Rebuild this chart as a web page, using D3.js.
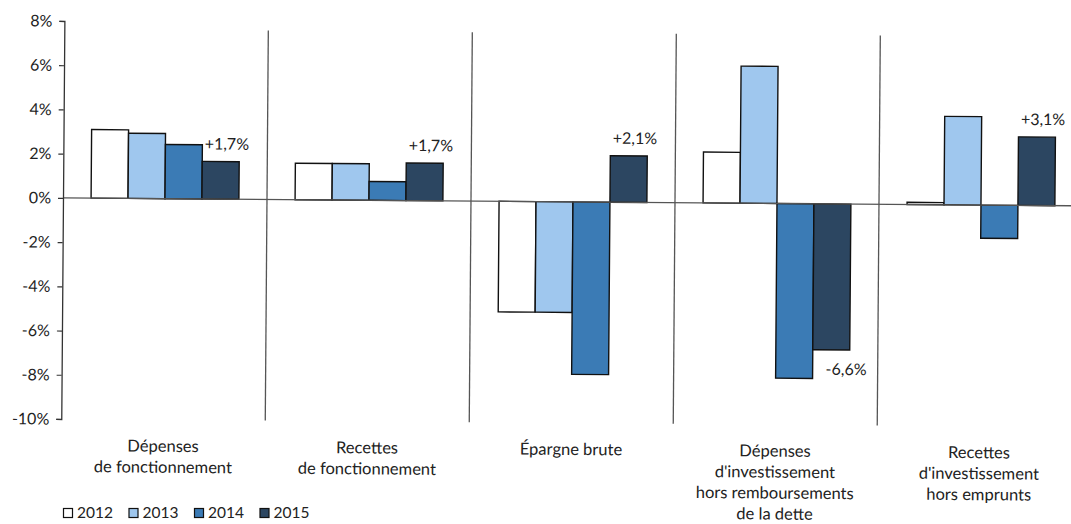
<!DOCTYPE html>
<html>
<head>
<meta charset="utf-8">
<script src="https://cdn.jsdelivr.net/npm/d3@7"></script>
<style>
  html, body { margin: 0; padding: 0; background: #fff; }
  svg { display: block; font-family: Lato, "Liberation Sans", sans-serif; }
</style>
</head>
<body>
<svg id="chart" width="1071" height="524"></svg>
<script>
// Évolution annuelle des grands agrégats budgétaires (%)
const categories = [
  ["Dépenses", "de fonctionnement"],
  ["Recettes", "de fonctionnement"],
  ["Épargne brute"],
  ["Dépenses", "d'investissement", "hors remboursements", "de la dette"],
  ["Recettes", "d'investissement", "hors emprunts"]
];
const years = ["2012", "2013", "2014", "2015"];
const v2012 = [3.1, 1.65, -5.0, 2.3, 0.1];
const v2013 = [2.95, 1.65, -5.0, 6.2, 4.0];
const v2014 = [2.45, 0.85, -7.8, -7.9, -1.5];
const v2015 = [1.7, 1.7, 2.1, -6.6, 3.1];
const yTicks = [8, 6, 4, 2, 0, -2, -4, -6, -8, -10];
const colors = ["#ffffff", "#9fc7ee", "#3b7bb5", "#2c4661"];

const series = [v2012, v2013, v2014, v2015];
// French decimal comma, plain hyphen for negatives
const frLocale = d3.formatLocale({ decimal: ",", thousands: " ", grouping: [3], currency: ["", " €"], minus: "-" });
const fmt = v => (v > 0 ? "+" : "") + frLocale.format(".1f")(v) + "%";

const svg = d3.select("#chart");
const left = 63, catW = 204;
const x0 = d3.scaleBand().domain(d3.range(categories.length))
  .range([left, left + catW * categories.length]).padding(0);
const x1 = d3.scaleBand().domain(years).range([0, x0.bandwidth()])
  .paddingInner(0).paddingOuter(0.76);
const y = d3.scaleLinear().domain([-10, 8]).range([419, 21]);

// slight clockwise skew of the whole page
const g = svg.append("g").attr("transform", `rotate(0.45, ${left}, ${y(0)})`);

// category separators
g.append("g").selectAll("line")
  .data(d3.range(1, categories.length))
  .join("line")
  .attr("x1", i => x0(i)).attr("x2", i => x0(i))
  .attr("y1", y(8) + 8).attr("y2", y(-10))
  .attr("stroke", "#555").attr("stroke-width", 1.3);

// bars
const bars = g.append("g");
years.forEach((yr, s) => {
  bars.selectAll(null)
    .data(series[s].map((v, i) => ({ v, i })))
    .join("rect")
    .attr("x", d => x0(d.i) + x1(yr))
    .attr("width", x1.bandwidth())
    .attr("y", d => y(Math.max(0, d.v)))
    .attr("height", d => Math.abs(y(d.v) - y(0)))
    .attr("fill", colors[s])
    .attr("stroke", "#111")
    .attr("stroke-width", 1.4);
});

// zero line
g.append("line")
  .attr("x1", left).attr("x2", left + catW * categories.length)
  .attr("y1", y(0)).attr("y2", y(0))
  .attr("stroke", "#555").attr("stroke-width", 1.4);

// y axis
const yAxis = d3.axisLeft(y).tickValues(yTicks).tickSize(5).tickPadding(7)
  .tickFormat(d => d + "%");
const ax = g.append("g").attr("transform", `translate(${left},0)`).call(yAxis);
ax.select(".domain").attr("stroke", "#333").attr("stroke-width", 1.3);
ax.selectAll(".tick line").attr("stroke", "#333").attr("stroke-width", 1.2);
ax.selectAll(".tick text").attr("font-size", 16).attr("fill", "#222")
  .attr("font-family", "Lato, sans-serif");

// 2015 value labels
g.append("g").selectAll("text")
  .data(v2015.map((v, i) => ({ v, i })))
  .join("text")
  .attr("x", d => x0(d.i) + x1("2015") + x1.bandwidth() / 2 + (d.v < 0 ? 15 : 6))
  .attr("y", d => d.v >= 0 ? y(d.v) - 12 : y(d.v) + 25)
  .attr("text-anchor", "middle")
  .attr("font-size", 16).attr("fill", "#222")
  .text(d => fmt(d.v));

// category labels
const catG = g.append("g");
categories.forEach((lines, i) => {
  const t = catG.append("text")
    .attr("x", x0(i) + x0.bandwidth() / 2)
    .attr("y", 451)
    .attr("text-anchor", "middle")
    .attr("font-size", 16.5).attr("fill", "#222");
  lines.forEach((ln, k) => {
    t.append("tspan").attr("x", x0(i) + x0.bandwidth() / 2)
      .attr("dy", k === 0 ? 0 : 21).text(ln);
  });
});

// legend
const leg = svg.append("g").attr("transform", "translate(63,513)");
years.forEach((yr, s) => {
  const it = leg.append("g").attr("transform", `translate(${s * 65.5},0)`);
  it.append("rect").attr("x", 0.5).attr("y", -4.5).attr("width", 9).attr("height", 9)
    .attr("fill", colors[s]).attr("stroke", "#111").attr("stroke-width", 1.2);
  it.append("text").attr("x", 14).attr("y", 0).attr("dy", "0.35em")
    .attr("font-size", 15.5).attr("fill", "#222").text(yr);
});
</script>
</body>
</html>
